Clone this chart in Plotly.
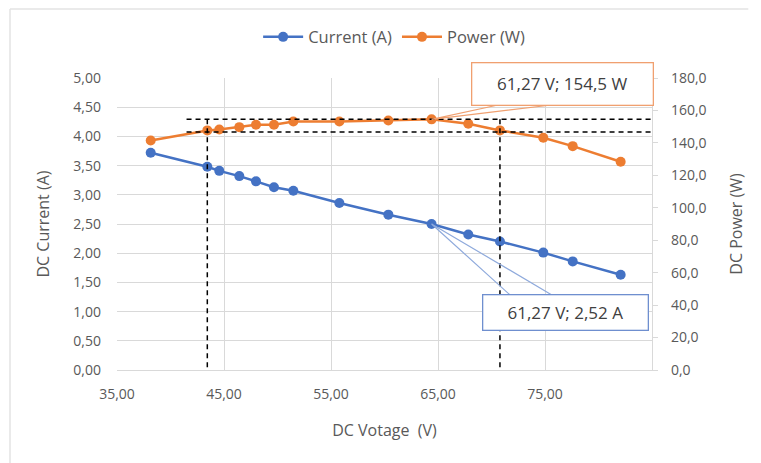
import plotly.graph_objects as go

# ---- data ----
voltage = [38.15, 43.44, 44.56, 46.43, 47.99, 49.67, 51.48, 55.78, 60.36, 64.40,
           67.83, 70.79, 74.84, 77.59, 82.07]
current = [3.72, 3.48, 3.41, 3.32, 3.23, 3.13, 3.07, 2.86, 2.66, 2.50,
           2.32, 2.20, 2.01, 1.86, 1.63]
power = [141.5, 147.7, 148.3, 149.7, 151.2, 151.2, 153.2, 153.2, 153.8, 154.5,
         151.8, 147.7, 143.2, 138.0, 128.4]

x_ticks = [35, 45, 55, 65, 75, 85]
x_tick_labels = ["35,00", "45,00", "55,00", "65,00", "75,00", ""]

p_max = 154.5
p_band = 0.95 * p_max
i_max_pt = 9        # index of the MPP point
i_low, i_high = 1, 11   # points where power falls to 95 %
band_start_v = 41.5

label_power = "61,27 V; 154,5 W"
label_current = "61,27 V; 2,52 A"

BLUE = "#4472C4"
ORANGE = "#ED7D31"
GRID = "#D9D9D9"
TXT = "#595959"
FONT = "Open Sans"

fig = go.Figure()
fig.add_trace(go.Scatter(x=voltage, y=current, name="Current (A)", mode="lines+markers",
                         line=dict(color=BLUE, width=2.5), marker=dict(size=10, color=BLUE),
                         yaxis="y"))
fig.add_trace(go.Scatter(x=voltage, y=power, name="Power (W)", mode="lines+markers",
                         line=dict(color=ORANGE, width=2.5), marker=dict(size=10, color=ORANGE),
                         yaxis="y2"))

shapes = []
dash = dict(color="black", width=1.5, dash="5px,4px")
# horizontal dashed band lines
for p in (p_max, p_band):
    shapes.append(dict(type="line", xref="x", yref="y2", x0=band_start_v, x1=85, y0=p, y1=p,
                       line=dash, layer="above"))
# vertical dashed lines
for i in (i_low, i_high):
    shapes.append(dict(type="line", xref="x", yref="y2", x0=voltage[i], x1=voltage[i],
                       y0=p_max, y1=0, line=dash, layer="above"))

# callout wedges
vm, pm, im = voltage[i_max_pt], power[i_max_pt], current[i_max_pt]
shapes.append(dict(type="path", xref="x", yref="y2",
                   path=f"M {vm},{pm} L 70.5,163.2 M {vm},{pm} L 75.4,163.2",
                   line=dict(color="#F0A070", width=1.2), layer="above"))
shapes.append(dict(type="path", xref="x", yref="y",
                   path=f"M {vm},{im} L 71.7,1.29 M {vm},{im} L 75.6,1.29",
                   line=dict(color="#8FAADC", width=1.2), layer="above"))

# chart-area border (top and left)
shapes.append(dict(type="line", xref="paper", yref="paper", x0=-0.2, x1=1.18, y0=1.236, y1=1.236,
                   line=dict(color="#E3E3E3", width=1.5)))
shapes.append(dict(type="line", xref="paper", yref="paper", x0=-0.2, x1=-0.2, y0=1.236, y1=-0.32,
                   line=dict(color="#E3E3E3", width=1.5)))

annotations = [
    dict(x=76.67, y=0.979, xref="x", yref="paper", xanchor="center", yanchor="middle",
         text=label_power, showarrow=False,
         font=dict(family=FONT, size=17, color="#404040"), bgcolor="white",
         bordercolor="#F0A070", borderwidth=1.3, borderpad=0, width=180, height=41),
    dict(x=76.87, y=0.985, xref="x", yref="y", xanchor="center", yanchor="middle",
         text=label_current, showarrow=False,
         font=dict(family=FONT, size=17, color="#404040"), bgcolor="white",
         bordercolor="#6F8FCF", borderwidth=1.3, borderpad=0, width=164, height=34),
]

fig.update_layout(
    width=753, height=455,
    margin=dict(l=109, r=109, t=70, b=93, autoexpand=False),
    paper_bgcolor="white", plot_bgcolor="white",
    separators=",.",
    font=dict(family=FONT, size=13, color=TXT),
    showlegend=True,
    legend=dict(orientation="h", x=0.518, xanchor="center", y=1.14, yanchor="middle",
                font=dict(family=FONT, size=16.5, color=TXT), itemwidth=40),
    xaxis=dict(range=[35, 85], tickvals=x_ticks, ticktext=x_tick_labels,
               showgrid=True, gridcolor=GRID, gridwidth=1, zeroline=False,
               showline=True, linecolor=GRID, linewidth=1.2, ticks="",
               ticklabelstandoff=11, tickfont=dict(size=14, color=TXT), automargin=False,
               title=dict(text="DC Votage  (V)", font=dict(size=16, color=TXT), standoff=22)),
    yaxis=dict(range=[0, 5], dtick=0.5, tickformat=".2f",
               showgrid=True, gridcolor=GRID, gridwidth=1, zeroline=False,
               showline=False, ticks="", ticklabelstandoff=15, automargin=False,
               tickfont=dict(size=14, color=TXT),
               title=dict(text="DC Current (A)", font=dict(size=16, color=TXT), standoff=19)),
    yaxis2=dict(range=[0, 180], dtick=20, tickformat=".1f", overlaying="y", side="right",
                showgrid=False, zeroline=False, showline=True, linecolor=GRID, linewidth=1.2,
                ticks="outside", ticklen=5, tickcolor=GRID, ticklabelstandoff=10, automargin=False,
                tickfont=dict(size=14, color=TXT),
                title=dict(text="DC Power (W)", font=dict(size=16, color=TXT), standoff=25)),
    shapes=shapes,
    annotations=annotations,
)

fig.write_html("out.html")
